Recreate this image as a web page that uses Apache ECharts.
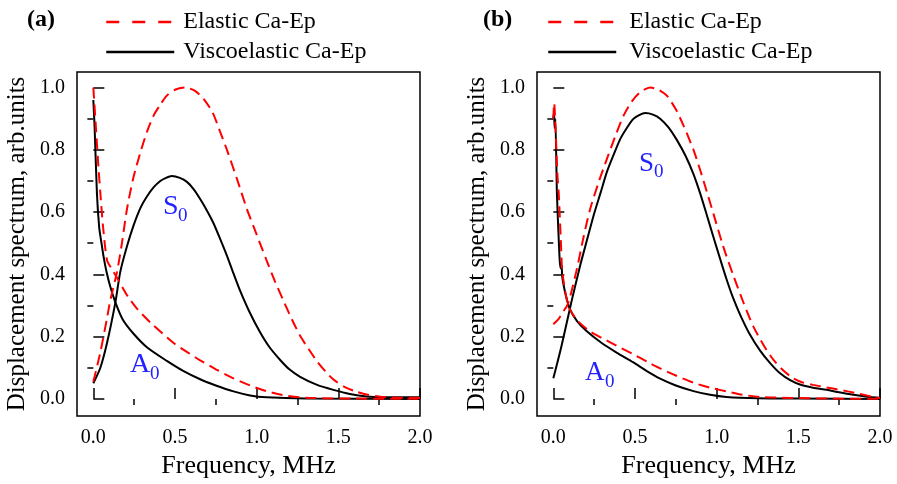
<!DOCTYPE html>
<html>
<head>
<meta charset="utf-8">
<script src="https://cdn.jsdelivr.net/npm/echarts@6/dist/echarts.min.js"></script>
<style>
html, body { margin: 0; padding: 0; background: #fff; }
#chart { width: 897px; height: 484px; }
</style>
</head>
<body>
<div id="chart"></div>
<script>
// tick values
var xMajor = [0, 0.5, 1.0, 1.5, 2.0];
var xMinor = [0.25, 0.75, 1.25, 1.75];
var yMajor = [0, 0.2, 0.4, 0.6, 0.8, 1.0];
var yMinor = [0.1, 0.3, 0.5, 0.7, 0.9];

var elasticName = 'Elastic Ca-Ep';
var viscoName = 'Viscoelastic Ca-Ep';

// panel (a) : [frequency MHz, amplitude]
var aElasticA0 = [[0,1.0],[0.016,0.87],[0.028,0.77],[0.043,0.66],[0.06,0.55],[0.084,0.445],[0.11,0.42],[0.155,0.38],
  [0.21,0.33],[0.267,0.29],[0.35,0.245],[0.49,0.18],[0.57,0.152],[0.654,0.124],[0.75,0.095],[0.858,0.066],[0.96,0.043],
  [1.06,0.025],[1.16,0.012],[1.266,0.005],[1.4,0.002],[1.6,0.001],[2.0,0]];
var aElasticS0 = [[0,0.055],[0.043,0.15],[0.084,0.26],[0.104,0.317],[0.145,0.408],[0.175,0.50],[0.206,0.61],[0.245,0.71],
  [0.287,0.79],[0.33,0.86],[0.369,0.91],[0.41,0.945],[0.45,0.974],[0.5,0.993],[0.563,1.0],[0.62,0.99],[0.675,0.964],
  [0.73,0.92],[0.777,0.857],[0.818,0.80],[0.879,0.707],[0.94,0.61],[0.98,0.555],[1.06,0.446],[1.11,0.38],[1.164,0.315],
  [1.216,0.255],[1.266,0.203],[1.318,0.16],[1.368,0.122],[1.42,0.089],[1.47,0.062],[1.54,0.038],[1.61,0.023],[1.68,0.013],
  [1.755,0.007],[1.85,0.004],[2.0,0.003]];
var aViscoA0 = [[0,0.96],[0.008,0.87],[0.022,0.66],[0.036,0.55],[0.05,0.50],[0.063,0.456],[0.08,0.41],[0.104,0.36],
  [0.135,0.31],[0.18,0.255],[0.245,0.21],[0.33,0.165],[0.45,0.122],[0.55,0.09],[0.654,0.063],[0.75,0.043],[0.858,0.024],
  [0.96,0.011],[1.06,0.005],[1.3,0.001],[2.0,0]];
var aViscoS0 = [[0,0.05],[0.043,0.10],[0.084,0.18],[0.135,0.31],[0.165,0.408],[0.206,0.49],[0.247,0.558],[0.29,0.615],
  [0.328,0.65],[0.37,0.68],[0.41,0.70],[0.445,0.71],[0.48,0.716],[0.53,0.71],[0.573,0.697],[0.615,0.673],[0.654,0.642],
  [0.69,0.61],[0.735,0.565],[0.777,0.513],[0.82,0.457],[0.858,0.403],[0.899,0.347],[0.96,0.275],[1.02,0.215],[1.08,0.165],
  [1.144,0.125],[1.2,0.095],[1.266,0.071],[1.37,0.045],[1.47,0.029],[1.57,0.016],[1.674,0.008],[1.8,0.005],[2.0,0.005]];

// panel (b)
var bElasticA0 = [[0,0.90],[0.005,0.95],[0.015,0.85],[0.025,0.72],[0.033,0.66],[0.045,0.52],[0.053,0.42],[0.065,0.37],
  [0.083,0.317],[0.104,0.285],[0.15,0.25],[0.226,0.216],[0.3,0.195],[0.39,0.17],[0.49,0.143],[0.59,0.115],[0.654,0.098],
  [0.75,0.075],[0.858,0.052],[0.96,0.036],[1.06,0.024],[1.16,0.013],[1.27,0.006],[1.45,0.003],[1.7,0.001],[2.0,0]];
var bElasticS0 = [[0,0.24],[0.03,0.255],[0.06,0.28],[0.085,0.30],[0.104,0.33],[0.145,0.419],[0.185,0.52],[0.226,0.611],
  [0.28,0.70],[0.328,0.771],[0.38,0.845],[0.43,0.91],[0.48,0.955],[0.532,0.985],[0.593,1.0],[0.645,0.993],[0.695,0.974],
  [0.75,0.93],[0.797,0.878],[0.858,0.80],[0.899,0.735],[0.94,0.665],[0.98,0.595],[1.04,0.49],[1.103,0.395],[1.165,0.308],
  [1.225,0.232],[1.29,0.17],[1.348,0.125],[1.41,0.09],[1.47,0.066],[1.53,0.052],[1.59,0.045],[1.67,0.037],[1.755,0.029],
  [1.85,0.019],[1.96,0.006],[2.0,0.003]];
var bViscoA0 = [[0,0.90],[0.004,0.92],[0.008,0.87],[0.012,0.90],[0.022,0.66],[0.03,0.55],[0.039,0.445],[0.045,0.42],
  [0.05,0.43],[0.055,0.39],[0.065,0.36],[0.073,0.34],[0.1,0.29],[0.145,0.25],[0.2,0.22],[0.29,0.182],[0.39,0.148],
  [0.49,0.117],[0.57,0.09],[0.654,0.065],[0.75,0.043],[0.858,0.025],[0.96,0.013],[1.06,0.006],[1.25,0.002],[1.5,0.001],[2.0,0]];
var bViscoS0 = [[0,0.066],[0.05,0.17],[0.11,0.31],[0.165,0.43],[0.206,0.51],[0.247,0.59],[0.288,0.66],[0.328,0.729],
  [0.37,0.785],[0.41,0.835],[0.45,0.87],[0.491,0.90],[0.563,0.918],[0.61,0.913],[0.654,0.90],[0.705,0.872],[0.756,0.832],
  [0.81,0.78],[0.858,0.722],[0.899,0.66],[0.94,0.59],[0.98,0.52],[1.021,0.45],[1.06,0.385],[1.1,0.325],[1.144,0.27],
  [1.2,0.21],[1.266,0.155],[1.33,0.113],[1.388,0.082],[1.45,0.06],[1.51,0.046],[1.59,0.036],[1.674,0.029],[1.75,0.021],
  [1.837,0.013],[1.92,0.007],[2.0,0.003]];

var FONT = '"Liberation Serif", "Times New Roman", serif';
var RED = '#ff0000';
var BLUE = '#2222ff';

var myChart = echarts.init(document.getElementById('chart'));

var grids = [
  { left: 77, top: 72, width: 343, height: 344, show: true, borderColor: '#000', borderWidth: 1.5, backgroundColor: '#fff' },
  { left: 537, top: 72, width: 343, height: 344, show: true, borderColor: '#000', borderWidth: 1.5, backgroundColor: '#fff' }
];

var xAxes = [], yAxes = [];
for (var g = 0; g < 2; g++) {
  xAxes.push({
    gridIndex: g, type: 'value', min: -0.1, max: 2.0,
    axisLine: { show: false }, splitLine: { show: false },
    axisTick: { inside: true, length: 11, customValues: xMajor, lineStyle: { color: '#000', width: 1.5 } },
    axisLabel: { customValues: xMajor, margin: 12, fontSize: 20, fontFamily: FONT, color: '#000',
      formatter: function (v) { return v.toFixed(1); } },
    name: 'Frequency, MHz', nameLocation: 'middle', nameGap: 36,
    nameTextStyle: { fontSize: 26, fontFamily: FONT, color: '#000' }
  });
  xAxes.push({
    gridIndex: g, type: 'value', min: -0.1, max: 2.0,
    axisLine: { show: false }, splitLine: { show: false }, axisLabel: { show: false },
    axisTick: { inside: true, length: 6, customValues: xMinor, lineStyle: { color: '#000', width: 1.5 } }
  });
  yAxes.push({
    gridIndex: g, type: 'value', min: -0.055, max: 1.05,
    axisLine: { show: false }, splitLine: { show: false },
    axisTick: { inside: true, length: 11, customValues: yMajor, lineStyle: { color: '#000', width: 1.5 } },
    axisLabel: { customValues: yMajor, margin: 12, fontSize: 20, fontFamily: FONT, color: '#000',
      formatter: function (v) { return v.toFixed(1); } },
    name: 'Displacement spectrum, arb.units', nameLocation: 'middle', nameGap: 47,
    nameTextStyle: { fontSize: 25, fontFamily: FONT, color: '#000' }
  });
  yAxes.push({
    gridIndex: g, type: 'value', min: -0.055, max: 1.05,
    axisLine: { show: false }, splitLine: { show: false }, axisLabel: { show: false },
    axisTick: { inside: true, length: 6, customValues: yMinor, lineStyle: { color: '#000', width: 1.5 } }
  });
}

function curve(name, data, panel, dashed) {
  return {
    name: name, type: 'line', data: data,
    xAxisIndex: panel * 2, yAxisIndex: panel * 2,
    symbol: 'circle', symbolSize: 0, showSymbol: false, smooth: 0.25, animation: false,
    lineStyle: dashed ? { color: RED, width: 2, type: [11, 6] } : { color: '#000', width: 2 },
    itemStyle: { color: dashed ? RED : '#000' },
    z: dashed ? 3 : 2
  };
}

function legendAt(left, gap) {
  return {
    left: left, top: 10, orient: 'vertical', selectedMode: false, padding: 0,
    itemWidth: 68, itemHeight: 1, itemGap: 6,
    textStyle: { fontSize: 24, fontFamily: FONT, color: '#000', padding: [0, 0, 0, gap], lineHeight: 24 },
    data: [
      { name: elasticName, itemStyle: { opacity: 0 }, lineStyle: { color: RED, width: 2.5, type: [13, 13] } },
      { name: viscoName, itemStyle: { opacity: 0 }, lineStyle: { color: '#000', width: 2.5 } }
    ]
  };
}

function txt(x, y, s, size, color, bold) {
  return {
    type: 'text', x: x, y: y, z: 100,
    style: { text: s, fontSize: size, fontFamily: FONT, fill: color, fontWeight: bold ? 'bold' : 'normal',
      textAlign: 'left', textVerticalAlign: 'middle' }
  };
}

option = {
  backgroundColor: '#fff',
  animation: false,
  grid: grids,
  xAxis: xAxes,
  yAxis: yAxes,
  legend: [legendAt(105, 4), legendAt(547, 8)],
  graphic: [
    txt(27, 20, '(a)', 24, '#000', true),
    txt(483, 20, '(b)', 24, '#000', true),
    txt(163, 207, 'S', 28, BLUE), txt(178, 216, '0', 19, BLUE),
    txt(130, 365, 'A', 28, BLUE), txt(150, 374, '0', 19, BLUE),
    txt(639, 164, 'S', 27, BLUE), txt(654, 172, '0', 19, BLUE),
    txt(585, 373, 'A', 27, BLUE), txt(605, 382, '0', 19, BLUE)
  ],
  series: [
    curve(viscoName, aViscoA0, 0, false),
    curve(viscoName, aViscoS0, 0, false),
    curve(elasticName, aElasticA0, 0, true),
    curve(elasticName, aElasticS0, 0, true),
    curve(viscoName, bViscoA0, 1, false),
    curve(viscoName, bViscoS0, 1, false),
    curve(elasticName, bElasticA0, 1, true),
    curve(elasticName, bElasticS0, 1, true)
  ]
};
myChart.setOption(option);
</script>
</body>
</html>
